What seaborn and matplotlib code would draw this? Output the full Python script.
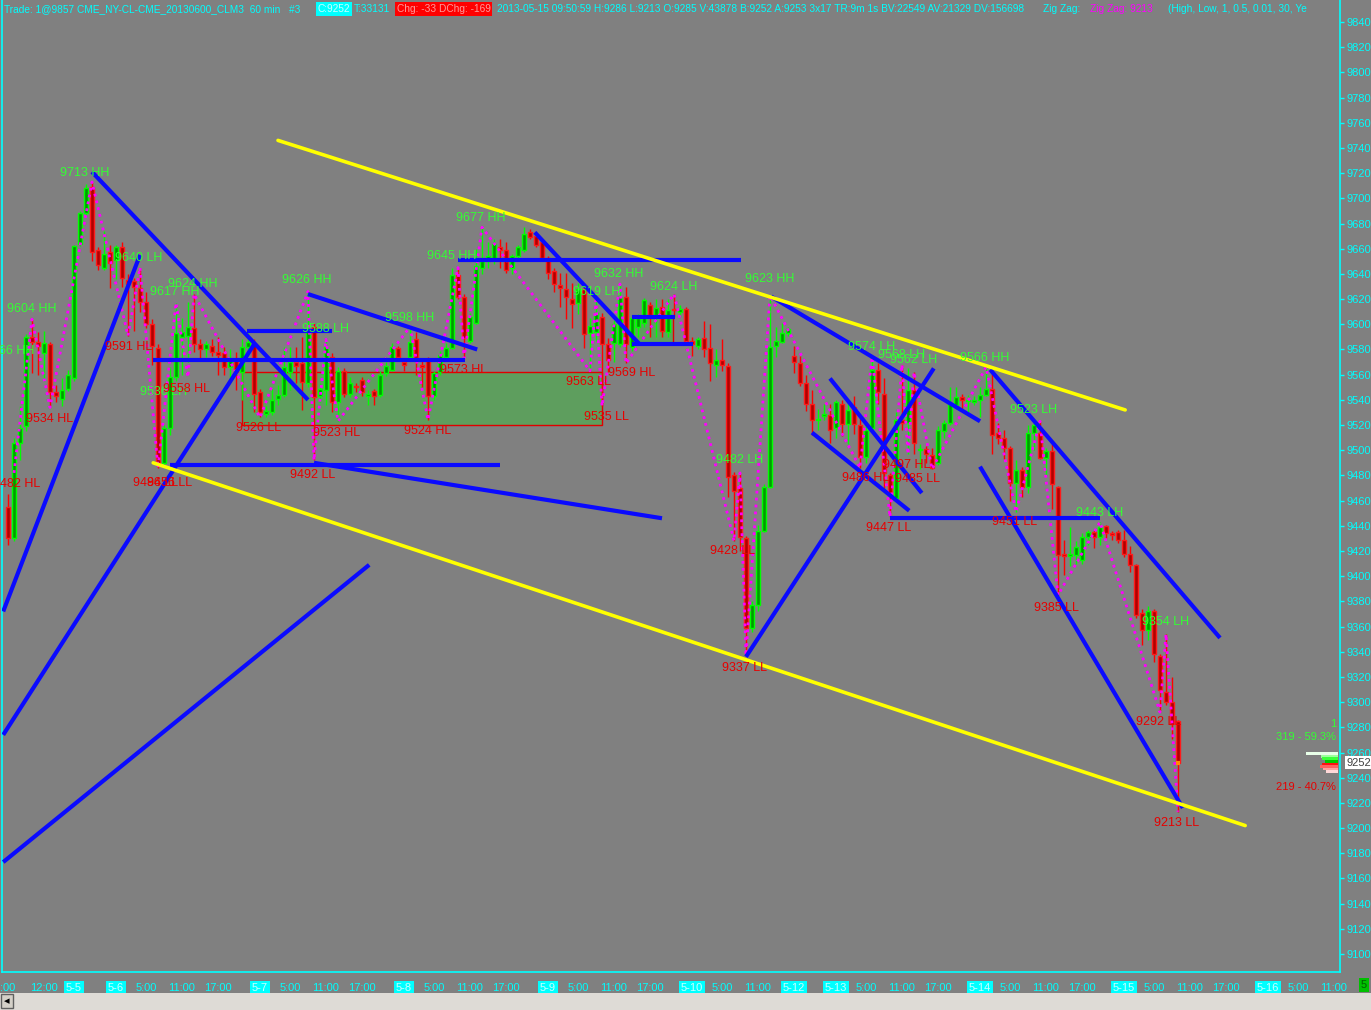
import matplotlib
matplotlib.use("Agg")
import numpy as np
import pandas as pd
import matplotlib.pyplot as plt
import seaborn as sns
from matplotlib.patches import Rectangle

# ---------------- data: 60-min CL bars (prices x100) ----------------
opens = [9455, 9430, 9506, 9519, 9590, 9586, 9577, 9584, 9546, 9541,
         9549, 9557, 9664, 9688, 9709, 9659, 9645, 9657, 9651, 9661,
         9635, 9634, 9629, 9618, 9600, 9581, 9490, 9518, 9558, 9590,
         9591, 9597, 9584, 9580, 9583, 9578, 9577, 9566, 9572, 9562,
         9582, 9585, 9546, 9529, 9530, 9541, 9544, 9562, 9570, 9569,
         9553, 9598, 9543, 9548, 9574, 9538, 9563, 9545, 9551, 9556,
         9543, 9547, 9544, 9561, 9564, 9581, 9570, 9574, 9588, 9568,
         9572, 9543, 9562, 9574, 9581, 9639, 9622, 9587, 9601, 9645,
         9650, 9651, 9661, 9659, 9645, 9654, 9659, 9673, 9670, 9665,
         9653, 9642, 9631, 9628, 9620, 9617, 9628, 9593, 9594, 9606,
         9584, 9585, 9584, 9622, 9582, 9598, 9601, 9615, 9607, 9614,
         9594, 9612, 9610, 9612, 9587, 9583, 9589, 9581, 9568, 9572,
         9567, 9480, 9470, 9430, 9359, 9377, 9436, 9471, 9583, 9586,
         9593, 9575, 9569, 9553, 9537, 9524, 9527, 9528, 9518, 9537,
         9521, 9534, 9520, 9495, 9518, 9564, 9545, 9480, 9462, 9524,
         9522, 9548, 9500, 9501, 9496, 9490, 9515, 9522, 9536, 9542,
         9539, 9538, 9540, 9544, 9549, 9514, 9510, 9502, 9474, 9484,
         9471, 9514, 9514, 9494, 9499, 9471, 9418, 9416, 9417, 9413,
         9431, 9435, 9431, 9440, 9434, 9435, 9429, 9418, 9409, 9371,
         9357, 9372, 9337, 9308, 9300, 9285]
highs = [9465, 9510, 9535, 9592, 9604, 9594, 9595, 9586, 9552, 9557,
         9564, 9663, 9690, 9711, 9713, 9661, 9674, 9663, 9663, 9665,
         9640, 9637, 9645, 9626, 9604, 9584, 9520, 9566, 9617, 9605,
         9618, 9624, 9588, 9587, 9588, 9590, 9582, 9580, 9578, 9588,
         9593, 9588, 9549, 9535, 9549, 9552, 9582, 9582, 9582, 9590,
         9626, 9601, 9553, 9588, 9577, 9566, 9565, 9558, 9553, 9558,
         9548, 9549, 9563, 9570, 9585, 9583, 9572, 9598, 9594, 9572,
         9574, 9563, 9579, 9585, 9645, 9645, 9624, 9609, 9660, 9677,
         9665, 9668, 9668, 9665, 9656, 9663, 9677, 9676, 9673, 9666,
         9654, 9645, 9641, 9641, 9633, 9633, 9630, 9605, 9619, 9609,
         9589, 9607, 9632, 9630, 9607, 9608, 9621, 9618, 9620, 9620,
         9620, 9624, 9615, 9614, 9590, 9590, 9603, 9600, 9580, 9588,
         9569, 9483, 9482, 9432, 9380, 9441, 9473, 9623, 9598, 9601,
         9598, 9583, 9575, 9560, 9548, 9533, 9537, 9537, 9540, 9540,
         9540, 9543, 9526, 9519, 9574, 9569, 9557, 9482, 9530, 9568,
         9565, 9562, 9505, 9503, 9502, 9519, 9524, 9550, 9550, 9545,
         9544, 9543, 9550, 9566, 9563, 9522, 9516, 9503, 9492, 9487,
         9520, 9525, 9523, 9502, 9505, 9472, 9429, 9439, 9428, 9434,
         9437, 9437, 9443, 9441, 9436, 9437, 9437, 9424, 9410, 9374,
         9376, 9374, 9338, 9354, 9320, 9286]
lows = [9425, 9428, 9492, 9515, 9561, 9560, 9555, 9534, 9538, 9535,
        9547, 9555, 9662, 9686, 9650, 9643, 9643, 9629, 9636, 9630,
        9591, 9595, 9610, 9597, 9568, 9486, 9487, 9512, 9555, 9560,
        9570, 9578, 9571, 9574, 9575, 9560, 9560, 9556, 9548, 9540,
        9575, 9530, 9526, 9526, 9528, 9536, 9542, 9548, 9553, 9532,
        9550, 9492, 9538, 9536, 9530, 9523, 9542, 9542, 9546, 9543,
        9536, 9536, 9542, 9559, 9563, 9572, 9563, 9572, 9560, 9550,
        9524, 9540, 9560, 9572, 9580, 9620, 9573, 9585, 9600, 9640,
        9645, 9648, 9645, 9641, 9640, 9652, 9657, 9668, 9661, 9651,
        9636, 9626, 9614, 9604, 9597, 9608, 9581, 9563, 9587, 9535,
        9562, 9570, 9582, 9569, 9579, 9590, 9598, 9590, 9590, 9590,
        9590, 9606, 9606, 9585, 9575, 9580, 9574, 9555, 9558, 9563,
        9463, 9428, 9420, 9337, 9356, 9372, 9435, 9470, 9574, 9585,
        9591, 9561, 9551, 9531, 9512, 9516, 9524, 9506, 9510, 9511,
        9505, 9513, 9486, 9490, 9517, 9537, 9468, 9447, 9460, 9516,
        9497, 9497, 9485, 9490, 9485, 9488, 9510, 9520, 9533, 9530,
        9530, 9536, 9526, 9543, 9497, 9505, 9493, 9460, 9451, 9463,
        9466, 9500, 9493, 9480, 9453, 9385, 9401, 9408, 9410, 9410,
        9425, 9422, 9425, 9430, 9429, 9426, 9415, 9403, 9367, 9345,
        9349, 9332, 9292, 9298, 9271, 9213]
closes = [9430, 9506, 9518, 9590, 9586, 9583, 9585, 9546, 9543, 9548,
          9560, 9662, 9688, 9708, 9657, 9647, 9656, 9649, 9661, 9637,
          9632, 9630, 9618, 9600, 9583, 9490, 9518, 9558, 9593, 9594,
          9598, 9584, 9580, 9584, 9578, 9576, 9566, 9572, 9562, 9582,
          9586, 9545, 9530, 9531, 9540, 9544, 9566, 9570, 9567, 9554,
          9595, 9542, 9549, 9582, 9538, 9563, 9545, 9553, 9550, 9546,
          9545, 9543, 9560, 9567, 9582, 9574, 9568, 9586, 9573, 9566,
          9543, 9561, 9576, 9581, 9639, 9622, 9589, 9606, 9646, 9650,
          9654, 9664, 9659, 9643, 9654, 9661, 9672, 9669, 9663, 9653,
          9641, 9632, 9629, 9622, 9616, 9628, 9592, 9599, 9609, 9584,
          9572, 9600, 9622, 9584, 9605, 9605, 9619, 9607, 9613, 9595,
          9611, 9611, 9612, 9587, 9584, 9588, 9580, 9569, 9572, 9568,
          9479, 9468, 9431, 9359, 9377, 9436, 9471, 9582, 9587, 9593,
          9596, 9570, 9553, 9537, 9524, 9525, 9529, 9516, 9538, 9521,
          9532, 9521, 9495, 9516, 9564, 9546, 9482, 9466, 9524, 9522,
          9548, 9506, 9501, 9497, 9486, 9516, 9522, 9537, 9542, 9540,
          9540, 9540, 9544, 9549, 9512, 9510, 9502, 9474, 9484, 9471,
          9514, 9520, 9494, 9499, 9473, 9417, 9416, 9418, 9423, 9431,
          9435, 9431, 9439, 9434, 9433, 9429, 9418, 9409, 9369, 9357,
          9372, 9338, 9310, 9300, 9283, 9252]

# zig-zag swing points (bar index, price)
zz_bars = [1, 4, 7, 14, 20, 22, 25, 28, 30, 31, 42, 50, 51, 53, 55, 67, 70,
           75, 76, 79, 97, 98, 99, 102, 103, 111, 121, 122, 123, 127, 142,
           144, 147, 149, 150, 151, 154, 163, 168, 172, 175, 182, 192, 193, 195]
zz_prices = [9482, 9604, 9534, 9713, 9591, 9645, 9486, 9617, 9558, 9624,
             9526, 9626, 9492, 9588, 9523, 9598, 9524, 9645, 9573, 9677,
             9563, 9619, 9535, 9632, 9569, 9624, 9428, 9482, 9337, 9623,
             9486, 9574, 9447, 9568, 9497, 9562, 9485, 9566, 9451, 9523,
             9385, 9443, 9292, 9354, 9213]

# swing labels (text, anchor bar, anchor price)
hi_text = ["9713 HH", "9604 HH", "9566 HH", "9640 LH", "9617 HH", "9624 HH",
           "9536 LH", "9626 HH", "9588 LH", "9598 HH", "9645 HH", "9677 HH",
           "9632 HH", "9619 LH", "9624 LH", "9623 HH", "9482 LH", "9574 LH",
           "9568 LH", "9562 LH", "9566 HH", "9523 LH", "9443 LH", "9354 LH"]
hi_bar = [8.7, -0.2, -3.8, 17.8, 23.7, 26.7, 22.0, 45.7, 49.0, 62.8, 69.8,
          74.7, 97.7, 94.2, 107.0, 122.8, 118.0, 140.0, 145.0, 147.0, 158.7,
          167.0, 178.0, 189.0]
hi_price = [9720, 9612, 9579, 9653, 9626, 9632, 9546, 9635, 9596, 9605,
            9654, 9684, 9640, 9626, 9630, 9636, 9492, 9582, 9576, 9572,
            9573, 9532, 9450, 9364]
lo_text = ["9482 HL", "9534 HL", "9591 HL", "9558 HL", "9486 LL", "9456 LL",
           "9526 LL", "9523 HL", "9492 LL", "9524 HL", "9573 HL", "9563 LL",
           "9535 LL", "9569 HL", "9428 LL", "9337 LL", "9486 HL", "9497 HL",
           "9485 LL", "9447 LL", "9451 LL", "9385 LL", "9292 LL", "9213 LL"]
lo_bar = [-2.5, 3.0, 16.2, 25.8, 20.8, 23.2, 38.0, 50.8, 47.0, 66.0, 72.0,
          93.0, 96.0, 100.0, 117.0, 119.0, 139.0, 145.8, 147.8, 143.0, 164.0,
          171.0, 188.0, 191.0]
lo_price = [9473, 9525, 9582, 9549, 9474, 9474, 9518, 9514, 9480, 9515,
            9564, 9554, 9526, 9561, 9420, 9327, 9478, 9488, 9477, 9438,
            9443, 9375, 9284, 9204]

# hand-drawn blue trend lines (start bar, start price, end bar, end price)
blue_b0 = [-0.8, -0.8, -0.8, 14.0, 24.2, 39.8, 27.0, 51.0, 50.0, 75.0, 87.8,
           104.0, 104.0, 123.0, 127.2, 137.0, 134.0, 147.0, 163.7, 162.0]
blue_p0 = [9372, 9274, 9173, 9721, 9572, 9595, 9488, 9490, 9624, 9651, 9673,
           9606, 9584, 9336, 9622, 9557, 9514, 9446, 9564, 9487]
blue_b1 = [22.0, 41.0, 60.2, 50.0, 76.2, 54.0, 82.0, 109.0, 78.2, 122.2, 105.3,
           111.2, 114.2, 154.3, 162.0, 152.3, 150.2, 182.0, 202.0, 195.8]
blue_p1 = [9655, 9584, 9409, 9540, 9572, 9595, 9488, 9446, 9580, 9651, 9584,
           9606, 9584, 9565, 9523, 9466, 9452, 9446, 9351, 9216]

# yellow channel lines
yel_b0 = [45.0, 24.2]
yel_p0 = [9746, 9490]
yel_b1 = [186.2, 206.2]
yel_p1 = [9532, 9202]

# shaded consolidation boxes (bar0, bar1, low, high)
box_b0 = [39.0, 104.0]
box_b1 = [99.0, 110.8]
box_lo = [9520, 9584]
box_hi = [9562, 9606]

# time axis
tick_bars = [0, 6, 11, 18, 23, 29, 35, 42, 47, 53, 59, 66, 71, 77, 83, 90, 95,
             101, 107, 114, 119, 125, 131, 138, 143, 149, 155, 162, 167, 173,
             179, 186, 191, 197, 203, 210, 215, 221]
tick_text = [":00", "12:00", "5-5", "5-6", "5:00", "11:00", "17:00", "5-7",
             "5:00", "11:00", "17:00", "5-8", "5:00", "11:00", "17:00", "5-9",
             "5:00", "11:00", "17:00", "5-10", "5:00", "11:00", "5-12", "5-13",
             "5:00", "11:00", "17:00", "5-14", "5:00", "11:00", "17:00", "5-15",
             "5:00", "11:00", "17:00", "5-16", "5:00", "11:00"]
price_ticks = list(range(9100, 9841, 20))

# volume-at-price summary on the right
vp_price = [9259, 9257, 9255, 9253, 9251, 9249, 9247, 9245]
vp_width = [5.3, 2.9, 2.6, 2.2, 2.6, 3.0, 2.5, 2.0]
vp_color = ["#e8ffe8", "#9dff9d", "#3cff3c", "#00c800",
            "#ff1010", "#ff6060", "#ffa0a0", "#ffd8d8"]

# header pieces (pixel x, text, text colour, box colour)
head_x = [4, 318, 354, 397, 439, 497, 1043, 1090, 1168]
head_s = ["Trade: 1@9857 CME_NY-CL-CME_20130600_CLM3  60 min   #3",
          "C:9252", "T:33131", "Chg: -33", "DChg: -169",
          "2013-05-15 09:50:59 H:9286 L:9213 O:9285 V:43878 B:9252 A:9253 "
          "3x17 TR:9m 1s BV:22549 AV:21329 DV:156698",
          "Zig Zag:", "Zig Zag: 9213", "(High, Low, 1, 0.5, 0.01, 30, Ye"]
head_col = ["#00ffff", "#c8ffff", "#00ffff", "#ff9a9a", "#ff9a9a",
            "#00ffff", "#00ffff", "#ff00ff", "#00ffff"]
head_box = [None, "#00ffff", None, "#ff0000", "#ff0000",
            None, None, None, None]

# ---------------- styling ----------------
BG = "#808080"
CYAN = "#00ffff"
sns.set_style("dark", {"axes.facecolor": BG, "figure.facecolor": BG,
                       "axes.edgecolor": CYAN, "grid.color": BG})
plt.rcParams["font.family"] = ["Liberation Sans", "DejaVu Sans"]

W, H = 1371, 1010
fig = plt.figure(figsize=(W / 100, H / 100), dpi=100)
fig.patch.set_facecolor(BG)

# plot area: pixel x 2..1340, pixel y 0..972
ax = fig.add_axes([2 / W, 38 / H, 1338 / W, 972 / H])
ax.set_facecolor(BG)
ax.set_xlim(-1, 222)
ax.set_ylim(9085.74, 9857.47)

df = pd.DataFrame({"o": opens, "h": highs, "l": lows, "c": closes})
df["bar"] = np.arange(len(df))
up = df["c"] >= df["o"]

# shaded boxes
for b0, b1, lo, hi in zip(box_b0, box_b1, box_lo, box_hi):
    ax.add_patch(Rectangle((b0, lo), b1 - b0, hi - lo, facecolor="#5e9e5e",
                           edgecolor="#e00000", lw=1, zorder=1))

# candles
wick_col = np.where(up, "#00ff00", "#ff0000")
ax.vlines(df["bar"], df["l"], df["h"], colors=wick_col, lw=1, zorder=2)
body_lo = np.minimum(df["o"], df["c"])
body_h = np.maximum(np.abs(df["c"] - df["o"]), 0.8)
ax.bar(df["bar"], body_h, bottom=body_lo, width=0.78,
       color=np.where(up, "#009a00", "#b00000"),
       edgecolor=np.where(up, "#00ff00", "#ff1a1a"), linewidth=1, zorder=3)

# zig-zag
zz = pd.DataFrame({"bar": zz_bars, "price": zz_prices})
sns.lineplot(data=zz, x="bar", y="price", ax=ax, color="#ff00ff", lw=2,
             linestyle=(0, (1, 1.5)), sort=False, estimator=None, zorder=4)

# trend lines
for b0, p0, b1, p1 in zip(blue_b0, blue_p0, blue_b1, blue_p1):
    ax.plot([b0, b1], [p0, p1], color="#0a0aff", lw=3, zorder=5,
            solid_capstyle="butt")
for b0, p0, b1, p1 in zip(yel_b0, yel_p0, yel_b1, yel_p1):
    ax.plot([b0, b1], [p0, p1], color="#ffff00", lw=2.6, zorder=5)

# swing labels
for t, b, p in zip(hi_text, hi_bar, hi_price):
    ax.text(b, p, t, color="#33ff33", fontsize=9, ha="left", va="center",
            zorder=6)
for t, b, p in zip(lo_text, lo_bar, lo_price):
    ax.text(b, p, t, color="#e80000", fontsize=9, ha="left", va="center",
            zorder=6)

# last price marker
ax.plot([194.6, 195.4], [closes[-1], closes[-1]], color="#ff8c00", lw=3,
        zorder=6, solid_capstyle="butt")

# volume summary
vp_right = 221.65
ax.barh(vp_price, vp_width, left=[vp_right - w for w in vp_width], height=2.1,
        color=vp_color, edgecolor="none", zorder=6)
ax.text(220.4, 9283, "1", color="#33ff33", fontsize=8, ha="left", va="center")
ax.text(221.3, 9272, "319 - 59.3%", color="#33ff33", fontsize=8, ha="right",
        va="center")
ax.text(221.3, 9232.5, "219 - 40.7%", color="#e80000", fontsize=8, ha="right",
        va="center")
ax.text(223.1, closes[-1], str(closes[-1]), color="#404040", fontsize=8,
        ha="left", va="center", clip_on=False,
        bbox=dict(facecolor="white", edgecolor="none", pad=1.2), zorder=7)

# axes frame / ticks
ax.spines["top"].set_visible(False)
for s in ["left", "right", "bottom"]:
    ax.spines[s].set_color(CYAN)
    ax.spines[s].set_linewidth(1.2)
ax.grid(False)
ax.set_xlabel("")
ax.set_ylabel("")
ax.yaxis.tick_right()
ax.set_yticks(price_ticks)
ax.set_yticklabels([str(v) for v in price_ticks])
ax.tick_params(axis="y", colors=CYAN, labelsize=8, length=3, width=1,
               pad=2, direction="out", right=True, left=False,
               labelright=True, labelleft=False, labelcolor=CYAN)
ax.set_xticks(tick_bars)
ax.set_xticklabels(tick_text)
ax.tick_params(axis="x", colors=CYAN, labelsize=8, length=5, width=1, pad=3,
               labelcolor=CYAN)
for lab in ax.get_xticklabels():
    if "-" in lab.get_text():
        lab.set_bbox(dict(facecolor=CYAN, edgecolor="none", pad=1.5))
        lab.set_color("#c8ffff")

# header line
for px, s, col, box in zip(head_x, head_s, head_col, head_box):
    kw = dict(color=col, fontsize=7.3, ha="left", va="center")
    if box:
        kw["bbox"] = dict(facecolor=box, edgecolor="none", pad=1.2)
    fig.text(px / W, 1 - 9 / H, s, **kw)

# bottom scroll strip
fig.patches.append(Rectangle((0, 0), 1, 17 / H, transform=fig.transFigure,
                             facecolor="#dedbd6", edgecolor="none",
                             hatch="....", zorder=0))
fig.patches.append(Rectangle((1 / W, 2 / H), 12 / W, 14 / H,
                             transform=fig.transFigure, facecolor="#d4d0c8",
                             edgecolor="#606060", lw=1, zorder=1))
fig.text(7 / W, 9 / H, "\u25c2", color="black", fontsize=8, ha="center",
         va="center")
fig.text(1364 / W, 1 - 985 / H, "5", color="#006000", fontsize=8, ha="center",
         va="center", bbox=dict(facecolor="#00c000", edgecolor="none", pad=1.5))

fig.savefig("out.png", dpi=100, facecolor=BG)
